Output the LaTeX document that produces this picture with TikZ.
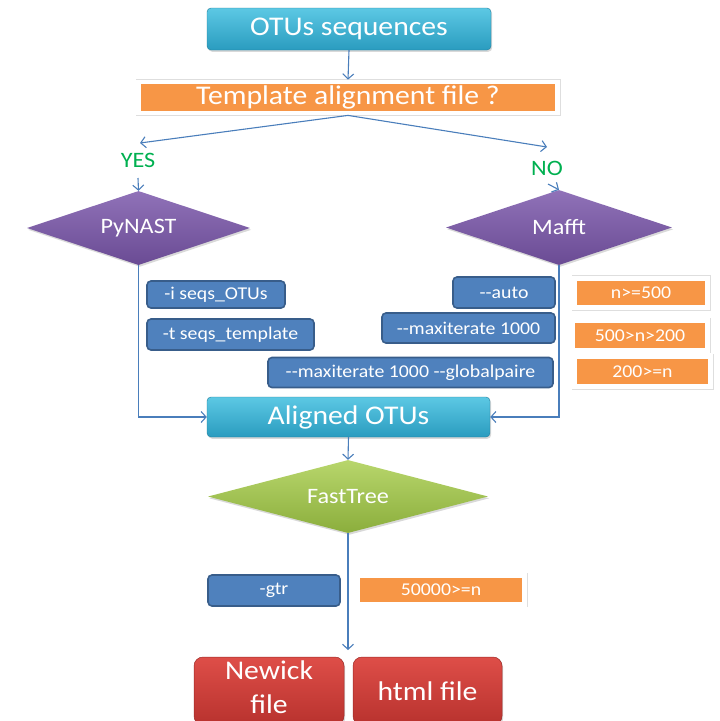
\documentclass[tikz,border=0pt]{standalone}
\usepackage{fontspec}
\setmainfont{Carlito}[FakeStretch=1.1]
\usetikzlibrary{shapes.geometric,shadows,arrows.meta}
\definecolor{linec}{HTML}{4A7EBB}
\definecolor{cyantop}{HTML}{5CC8E4}
\definecolor{cyanbot}{HTML}{2A9CBF}
\definecolor{bluebox}{HTML}{4F81BD}
\definecolor{blueedge}{HTML}{385D8A}
\definecolor{orangec}{HTML}{F79646}
\definecolor{purtop}{HTML}{9072B8}
\definecolor{purbot}{HTML}{6A4B94}
\definecolor{grntop}{HTML}{B8D66C}
\definecolor{grnbot}{HTML}{8BAE3C}
\definecolor{redtop}{HTML}{DE4E48}
\definecolor{redbot}{HTML}{B8322E}
\definecolor{greentxt}{HTML}{00B050}
\newcommand{\dd}{-\kern0pt-}
\tikzset{
  arr/.style={draw=linec, line width=1.1pt, -{Straight Barb[length=5pt,width=11pt,line width=1.1pt]}},
  shad/.style={drop shadow={opacity=0.3, shadow xshift=1.2pt, shadow yshift=-1.8pt}},
  cyanbox/.style={shad, rounded corners=4pt, top color=cyantop, bottom color=cyanbot, draw=cyanbot!80!black, line width=0.4pt, text=white, inner sep=0pt, font=\fontsize{27}{30}\selectfont},
  diam/.style={shad, diamond, aspect=3, inner sep=0pt, text=white, font=\fontsize{22}{24}\selectfont},
  optbox/.style={rounded corners=4pt, fill=bluebox, draw=blueedge, line width=1.6pt, text=white, inner sep=0pt, font=\fontsize{18}{20}\selectfont},
  orbox/.style={drop shadow={opacity=0.22, shadow xshift=1.8pt, shadow yshift=-3.2pt}, preaction={draw=black!13, line width=6pt}, fill=orangec, draw=white, line width=4.8pt, text=white, inner sep=0pt, font=\fontsize{18}{20}\selectfont},
  redbox/.style={shad, rounded corners=9pt, top color=redtop, bottom color=redbot, draw=redbot!85!black, line width=0.5pt, text=white, inner sep=0pt, align=center, font=\fontsize{27}{34}\selectfont},
  lbl/.style={text=greentxt, inner sep=0pt, font=\fontsize{22}{24}\selectfont}
}
\begin{document}
\begin{tikzpicture}[x=1pt,y=-1pt]
\useasboundingbox (0,0) rectangle (720,721);
\clip (0,0) rectangle (720,721);

% top boxes
\node[cyanbox, minimum width=284, minimum height=42] (otus) at (349,29) {OTUs sequences};
\node[orbox, minimum width=419, minimum height=31, font=\fontsize{27}{30}\selectfont] (tmpl) at (348,97.5) {Template alignment file ?};

% decisions
\coordinate (yesend) at (140,143);
\coordinate (noend) at (547,147);
\node[lbl] (yes) at (138,160) {YES};
\node[lbl] (no) at (547,168) {NO};
\coordinate (yesstart) at (138,178);
\coordinate (nostart) at (548,184);

\node[diam, top color=purtop, bottom color=purbot, minimum width=223, minimum height=74] (pynast) at (138.5,228) {PyNAST};
\node[diam, top color=purtop, bottom color=purbot, minimum width=226, minimum height=75] (mafft) at (559,227.5) {Mafft};

% option boxes
\node[optbox, minimum width=138, minimum height=27] (opti) at (216,294.5) {-i seqs\_OTUs};
\node[optbox, minimum width=167, minimum height=31] (optt) at (230.5,334.5) {-t seqs\_template};
\node[optbox, minimum width=285, minimum height=30] (optg) at (410.5,372.5) {\dd maxiterate 1000 \dd globalpaire};
\node[optbox, minimum width=102, minimum height=31] (opta) at (504,292.5) {\dd auto};
\node[optbox, minimum width=173, minimum height=30] (optm) at (468.5,328) {\dd maxiterate 1000};

\node[orbox, minimum width=133, minimum height=29.5] (n1) at (641,293) {n>=500};
\node[orbox, minimum width=135, minimum height=29.5] (n2) at (640,335.5) {500>n>200};
\node[orbox, minimum width=136, minimum height=30] (n3) at (642.5,371.5) {200>=n};

% aligned + fasttree
\node[cyanbox, minimum width=283, minimum height=40] (aligned) at (348.5,417) {Aligned OTUs};
\node[diam, top color=grntop, bottom color=grnbot, minimum width=280, minimum height=73] (fasttree) at (348,496.5) {FastTree};

\node[optbox, minimum width=132, minimum height=31] (gtr) at (274,590.5) {-gtr};
\node[orbox, minimum width=167, minimum height=28.5] (n4) at (441,590) {50000>=n};

\node[redbox, minimum width=150, minimum height=68, text depth=8pt] (newick) at (269,691) {Newick\\file};
\node[redbox, minimum width=149, minimum height=68] (html) at (427.5,691) {html file};
\coordinate (treeend) at (348,650);

% connectors
\draw[arr] (otus.south) -- (tmpl.north);
\draw[arr] (tmpl.south) -- (yesend);
\draw[arr] (tmpl.south) -- (noend);
\draw[arr] (yesstart) -- (pynast.north);
\draw[arr] (nostart) -- (mafft.north);
\draw[arr] (pynast.south) |- (aligned.west);
\draw[arr] (mafft.south) |- (aligned.east);
\draw[arr] (aligned.south) -- (fasttree.north);
\draw[arr] (fasttree.south) -- (treeend);
\end{tikzpicture}
\end{document}
